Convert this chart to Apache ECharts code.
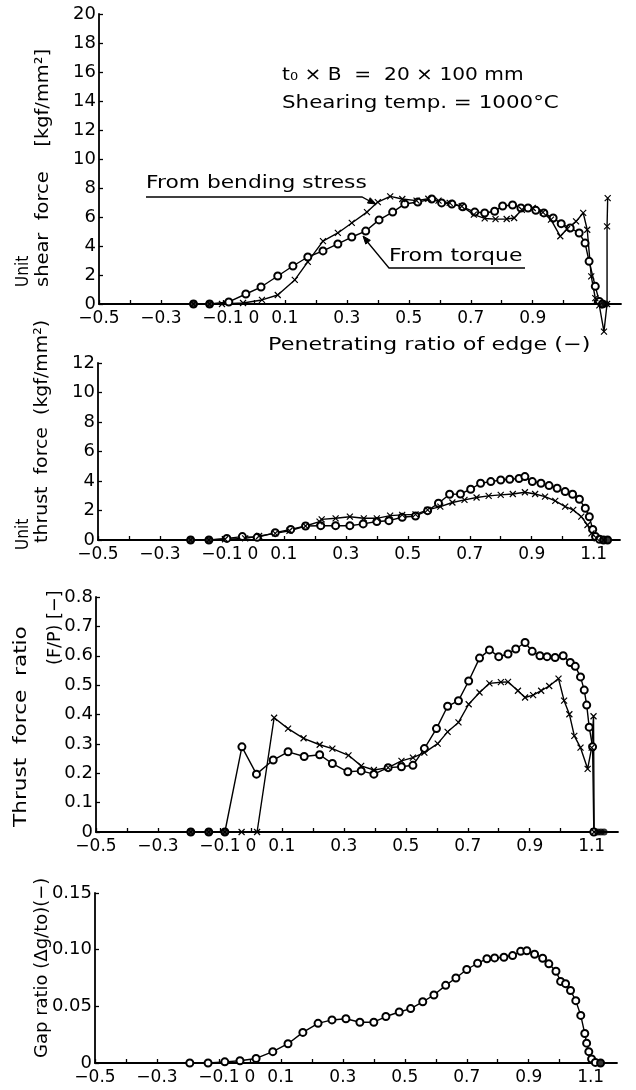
<!DOCTYPE html>
<html>
<head>
<meta charset="utf-8">
<script src="https://cdn.jsdelivr.net/npm/echarts@6/dist/echarts.min.js"></script>
<style>
html,body{margin:0;padding:0;background:#fff;}
#c{width:636px;height:1090px;}
</style>
</head>
<body>
<div id="c"></div>
<script>
// ---------- tick values / labels ----------
const xTicks = [-0.5,-0.4,-0.3,-0.2,-0.1,0,0.1,0.2,0.3,0.4,0.5,0.6,0.7,0.8,0.9,1.0,1.1];
const xLabels1 = [-0.5,-0.3,-0.1,0,0.1,0.3,0.5,0.7,0.9];
const xLabels = [-0.5,-0.3,-0.1,0,0.1,0.3,0.5,0.7,0.9,1.1];

// ---------- panel 1 : unit shear force ----------
const shearTorque = [[-0.195,0],[-0.143,0],[-0.081,0.14],[-0.026,0.69],[0.023,1.17],[0.077,1.93],[0.126,2.62],[0.174,3.24],[0.223,3.66],[0.271,4.14],[0.316,4.62],[0.361,5.03],[0.404,5.8],[0.448,6.34],[0.487,6.9],[0.529,7.03],[0.574,7.24],[0.606,6.97],[0.639,6.9],[0.674,6.7],[0.713,6.34],[0.745,6.28],[0.777,6.4],[0.803,6.76],[0.835,6.83],[0.862,6.62],[0.885,6.62],[0.91,6.46],[0.936,6.28],[0.966,5.93],[0.992,5.54],[1.021,5.24],[1.05,4.9],[1.069,4.2],[1.082,2.94],[1.102,1.22],[1.115,0.18],[1.125,0]];
const shearBending = [[-0.195,0],[-0.143,0],[-0.103,0],[-0.035,0.07],[0.026,0.28],[0.077,0.62],[0.132,1.66],[0.174,2.9],[0.223,4.34],[0.271,4.9],[0.316,5.59],[0.365,6.34],[0.4,7.03],[0.44,7.42],[0.479,7.24],[0.525,7.13],[0.563,7.26],[0.596,7.13],[0.632,6.97],[0.671,6.74],[0.71,6.16],[0.745,5.9],[0.78,5.85],[0.816,5.86],[0.84,5.93],[0.865,6.5],[0.9,6.62],[0.933,6.32],[0.959,5.82],[0.989,4.67],[1.011,5.17],[1.04,5.7],[1.063,6.28],[1.076,5.12],[1.089,1.9],[1.102,0.41],[1.115,-0.1],[1.13,-1.9],[1.14,0],[1.14,5.35],[1.142,7.3]];
const shearDots = [[-0.195,0],[-0.143,0],[1.125,0],[1.135,0]];

// ---------- panel 2 : unit thrust force ----------
const thrustCircle = [[-0.201,0],[-0.142,0],[-0.084,0.11],[-0.034,0.23],[0.014,0.18],[0.072,0.5],[0.122,0.72],[0.17,0.95],[0.219,0.97],[0.267,0.97],[0.313,0.97],[0.356,1.09],[0.4,1.25],[0.439,1.31],[0.482,1.54],[0.525,1.63],[0.564,1.99],[0.599,2.49],[0.635,3.1],[0.67,3.12],[0.703,3.44],[0.735,3.85],[0.768,3.96],[0.8,4.07],[0.829,4.12],[0.859,4.17],[0.878,4.3],[0.902,3.96],[0.93,3.85],[0.956,3.69],[0.982,3.51],[1.008,3.28],[1.032,3.1],[1.054,2.76],[1.073,2.15],[1.086,1.58],[1.097,0.72],[1.106,0.23],[1.119,0.05],[1.132,0],[1.145,0]];
const thrustCross = [[-0.201,0],[-0.142,0],[-0.09,0.05],[-0.025,0.11],[0.02,0.27],[0.072,0.45],[0.118,0.63],[0.17,0.95],[0.215,1.25],[0.222,1.4],[0.267,1.47],[0.313,1.58],[0.358,1.47],[0.4,1.47],[0.443,1.65],[0.482,1.7],[0.525,1.74],[0.564,2.04],[0.605,2.26],[0.644,2.54],[0.683,2.72],[0.722,2.88],[0.761,2.99],[0.8,3.06],[0.839,3.12],[0.878,3.24],[0.911,3.12],[0.943,2.94],[0.976,2.65],[1.008,2.26],[1.034,2.04],[1.06,1.58],[1.08,1.02],[1.093,0.45],[1.11,0.11],[1.132,0]];
const thrustDots = [[-0.201,0],[-0.142,0],[1.132,0],[1.145,0]];

// ---------- panel 3 : thrust force ratio ----------
const ratioCircle = [[-0.194,0],[-0.136,0],[-0.084,0],[-0.029,0.29],[0.018,0.197],[0.072,0.245],[0.12,0.273],[0.172,0.257],[0.222,0.263],[0.263,0.233],[0.313,0.205],[0.356,0.208],[0.397,0.197],[0.443,0.219],[0.486,0.222],[0.523,0.227],[0.56,0.284],[0.599,0.352],[0.635,0.428],[0.67,0.447],[0.703,0.514],[0.738,0.592],[0.77,0.62],[0.8,0.597],[0.83,0.606],[0.855,0.623],[0.885,0.645],[0.908,0.615],[0.933,0.6],[0.956,0.597],[0.982,0.594],[1.008,0.6],[1.031,0.577],[1.047,0.564],[1.064,0.528],[1.076,0.483],[1.084,0.432],[1.092,0.357],[1.103,0.29],[1.107,0]];
const ratioCross = [[-0.194,0],[-0.136,0],[-0.084,0],[-0.03,0],[0.02,0],[0.075,0.389],[0.12,0.352],[0.17,0.319],[0.222,0.297],[0.263,0.284],[0.315,0.261],[0.356,0.225],[0.397,0.211],[0.443,0.219],[0.486,0.242],[0.523,0.253],[0.56,0.27],[0.603,0.301],[0.635,0.341],[0.67,0.373],[0.703,0.435],[0.738,0.475],[0.77,0.506],[0.807,0.51],[0.83,0.511],[0.862,0.481],[0.885,0.458],[0.911,0.466],[0.937,0.481],[0.963,0.497],[0.993,0.522],[1.011,0.447],[1.028,0.401],[1.044,0.327],[1.064,0.287],[1.087,0.215],[1.1,0.287],[1.106,0.394],[1.108,0]];
const ratioDots = [[-0.194,0],[-0.136,0],[-0.084,0],[1.12,0],[1.13,0],[1.14,0]];

// ---------- panel 4 : gap ratio ----------
const gapRatio = [[-0.194,0],[-0.135,0],[-0.081,0.001],[-0.032,0.002],[0.02,0.004],[0.074,0.010],[0.123,0.017],[0.171,0.027],[0.22,0.035],[0.265,0.038],[0.31,0.039],[0.355,0.036],[0.4,0.036],[0.439,0.041],[0.482,0.045],[0.519,0.048],[0.558,0.054],[0.594,0.060],[0.632,0.0685],[0.665,0.075],[0.7,0.0825],[0.735,0.088],[0.765,0.092],[0.79,0.0927],[0.82,0.0933],[0.848,0.0948],[0.874,0.0985],[0.894,0.099],[0.919,0.096],[0.945,0.0924],[0.965,0.0875],[0.988,0.081],[1.003,0.072],[1.019,0.07],[1.035,0.064],[1.052,0.055],[1.068,0.042],[1.081,0.026],[1.087,0.0175],[1.094,0.010],[1.103,0.0035],[1.115,0.0005],[1.132,0]];
const gapDots = [[1.132,0]];

// ---------- chart ----------
const FONT = "'DejaVu Sans', sans-serif";
const chart = echarts.init(document.getElementById('c'), null, {renderer:'canvas'});
const grids = [
  {left:99, top:14, width:522, height:290},
  {left:98, top:363, width:522, height:177},
  {left:96, top:597, width:522, height:235},
  {left:95, top:893, width:522, height:170}
];
function fmtX(v){
  if (Math.abs(v) < 1e-9) return '0';
  return (v < 0 ? '\u2212' : '') + Math.abs(v).toFixed(1);
}
function xAxis(i, labels){
  return {
    type:'value', gridIndex:i, min:-0.5, max:1.185,
    axisLine:{show:true, onZero:false, lineStyle:{color:'#000', width:1.8}},
    axisTick:{show:true, inside:true, length:4, customValues:xTicks, lineStyle:{color:'#000', width:1.3}},
    axisLabel:{show:true, customValues:labels, formatter:fmtX, color:'#000', fontSize:17, fontFamily:FONT, margin:6},
    splitLine:{show:false}
  };
}
function yAxis(i, max, interval, fmt){
  return {
    type:'value', gridIndex:i, min:0, max:max, interval:interval,
    axisLine:{show:true, onZero:false, lineStyle:{color:'#000', width:1.8}},
    axisTick:{show:true, inside:true, length:4, lineStyle:{color:'#000', width:1.3}},
    axisLabel:{show:true, formatter:fmt, color:'#000', fontSize:18, fontFamily:FONT, margin:3},
    splitLine:{show:false}
  };
}
const fmtInt = v => String(Math.round(v));
const fmt1 = v => v === 0 ? '0' : v.toFixed(1);
const fmt2 = v => v === 0 ? '0' : v.toFixed(2);

const CROSS = 'path://M0,0L10,10M10,0L0,10';
function circleSeries(i, data){
  return {type:'line', xAxisIndex:i, yAxisIndex:i, data:data, clip:false,
    symbol:'emptyCircle', symbolSize:7, showAllSymbol:true,
    lineStyle:{color:'#000', width:1.4},
    itemStyle:{color:'#000', borderColor:'#000', borderWidth:1.2},
    emphasis:{disabled:true}, animation:false, z:3};
}
function crossSeries(i, data){
  return {type:'line', xAxisIndex:i, yAxisIndex:i, data:data, clip:false,
    symbol:CROSS, symbolSize:6, showAllSymbol:true,
    lineStyle:{color:'#000', width:1.4},
    itemStyle:{color:'#000', borderColor:'#000', borderWidth:1.2},
    emphasis:{disabled:true}, animation:false, z:3};
}
function dotSeries(i, data){
  return {type:'scatter', xAxisIndex:i, yAxisIndex:i, data:data, clip:false,
    symbol:'circle', symbolSize:7, itemStyle:{color:'#000'},
    emphasis:{disabled:true}, animation:false, z:4};
}

function vtext(x, y, text, sx){
  return {type:'text', x:x, y:y, rotation:Math.PI/2, scaleX:sx||1.12, silent:true,
    style:{text:text, fill:'#000', fontSize:18, fontFamily:FONT,
      align:'left', verticalAlign:'middle', textAlign:'left', textVerticalAlign:'middle'}};
}
function htext(x, y, text, sx){
  return {type:'text', x:x, y:y, scaleX:sx||1.2, silent:true,
    style:{text:text, fill:'#000', fontSize:18, fontFamily:FONT,
      align:'left', verticalAlign:'middle', textAlign:'left', textVerticalAlign:'middle'}};
}
function arrowHead(tail, tip){
  const dx = tip[0]-tail[0], dy = tip[1]-tail[1];
  const L = Math.sqrt(dx*dx+dy*dy), ux = dx/L, uy = dy/L;
  const len = 8, w = 3;
  const bx = tip[0]-ux*len, by = tip[1]-uy*len;
  return {type:'polygon', silent:true,
    shape:{points:[tip,[bx-uy*w, by+ux*w],[bx+uy*w, by-ux*w]]},
    style:{fill:'#000', stroke:'#000', lineWidth:1}};
}
function pline(points){
  return {type:'polyline', silent:true, shape:{points:points},
    style:{stroke:'#000', lineWidth:1.3, fill:null}};
}

const option = {
  backgroundColor:'#fff',
  animation:false,
  grid: grids,
  xAxis:[xAxis(0,xLabels1), xAxis(1,xLabels), xAxis(2,xLabels), xAxis(3,xLabels)],
  yAxis:[yAxis(0,20,2,fmtInt), yAxis(1,12,2,fmtInt), yAxis(2,0.8,0.1,fmt1), yAxis(3,0.15,0.05,fmt2)],
  series:[
    circleSeries(0, shearTorque), crossSeries(0, shearBending), dotSeries(0, shearDots),
    circleSeries(1, thrustCircle), crossSeries(1, thrustCross), dotSeries(1, thrustDots),
    circleSeries(2, ratioCircle), crossSeries(2, ratioCross), dotSeries(2, ratioDots),
    circleSeries(3, gapRatio), dotSeries(3, gapDots)
  ],
  graphic:[
    // y-axis titles
    vtext(23, 287, 'Unit', 0.85),
    vtext(43, 287, 'shear  force    [kgf/mm\u00B2]', 1.08),
    vtext(23, 550, 'Unit', 0.85),
    vtext(42, 543, 'thrust  force  (kgf/mm\u00B2)', 1.05),
    vtext(21, 827, 'Thrust  force  ratio', 1.2),
    vtext(55, 665, '(F/P) [\u2212]', 0.98),
    vtext(42, 1058, 'Gap ratio (\u0394g/to)(\u2212)', 1.0),
    // x-axis title of panel 1
    htext(268, 345, 'Penetrating ratio of edge (\u2212)', 1.24),
    // annotations
    htext(282, 75, 't\u2080 \u00D7 B  =  20 \u00D7 100 mm', 1.12),
    htext(282, 103, 'Shearing temp. = 1000\u00B0C', 1.19),
    htext(146, 183, 'From bending stress', 1.21),
    pline([[146,197],[362,197],[375,204]]),
    arrowHead([362,197],[376,204]),
    htext(389, 256, 'From torque', 1.22),
    pline([[525,268],[389,268],[365,239]]),
    arrowHead([389,268],[363,236])
  ]
};
chart.setOption(option);
</script>
</body>
</html>
